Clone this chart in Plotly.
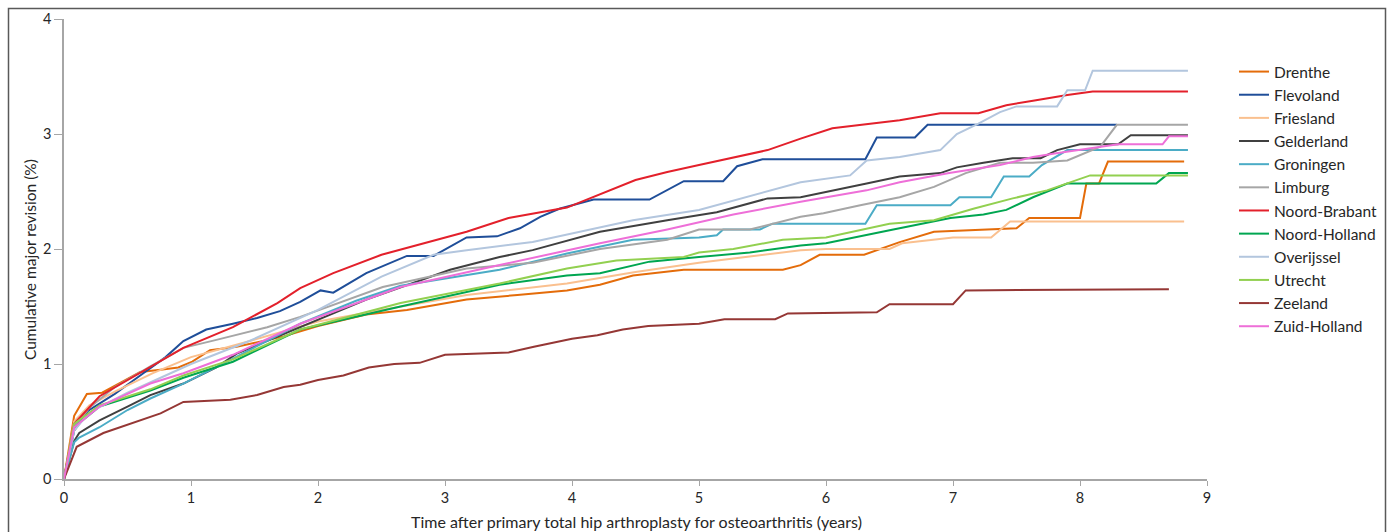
import plotly.graph_objects as go

# Cumulative major revision (%) by province, years after primary total hip arthroplasty
provinces = ["Drenthe", "Flevoland", "Friesland", "Gelderland", "Groningen", "Limburg",
             "Noord-Brabant", "Noord-Holland", "Overijssel", "Utrecht", "Zeeland", "Zuid-Holland"]

colors = ["#E46C0A", "#1F4E99", "#FAC08F", "#404040", "#4BACC6", "#A6A6A6",
          "#E3202B", "#00A651", "#B3C6DE", "#92D050", "#953735", "#EE6FD8"]

drenthe_t = [0, 0.08, 0.18, 0.3, 0.45, 0.6, 0.76, 0.9, 1.01, 1.15, 1.36, 1.73, 2.0, 2.38, 2.7, 3.17,
             3.57, 3.96, 4.22, 4.48, 4.88, 5.66, 5.8, 5.95, 6.3, 6.4, 6.58, 6.85, 7.5, 7.6, 8.0,
             8.05, 8.15, 8.22, 8.82]
drenthe_v = [0, 0.55, 0.74, 0.75, 0.84, 0.93, 0.95, 0.97, 1.02, 1.12, 1.15, 1.24, 1.33, 1.43, 1.47, 1.56,
             1.6, 1.64, 1.69, 1.77, 1.82, 1.82, 1.86, 1.95, 1.95, 1.99, 2.06, 2.15, 2.18, 2.27, 2.27,
             2.57, 2.57, 2.76, 2.76]

flevoland_t = [0, 0.08, 0.2, 0.4, 0.6, 0.8, 0.94, 1.12, 1.33, 1.52, 1.7, 1.86, 2.02, 2.12, 2.38, 2.7,
               2.91, 3.17, 3.41, 3.59, 3.75, 3.9, 4.17, 4.61, 4.88, 5.19, 5.3, 5.5, 6.31, 6.4, 6.7,
               6.8, 8.29]
flevoland_v = [0, 0.42, 0.6, 0.74, 0.9, 1.06, 1.2, 1.3, 1.35, 1.4, 1.46, 1.54, 1.64, 1.62, 1.79, 1.94,
               1.94, 2.1, 2.11, 2.18, 2.28, 2.35, 2.43, 2.43, 2.59, 2.59, 2.72, 2.78, 2.78, 2.97, 2.97,
               3.08, 3.08]

friesland_t = [0, 0.08, 0.2, 0.4, 0.7, 1.0, 1.4, 2.0, 2.5, 3.17, 3.96, 4.5, 5.0, 5.8, 6.0, 6.5, 6.6,
               7.0, 7.3, 7.45, 8.82]
friesland_v = [0, 0.5, 0.64, 0.76, 0.92, 1.06, 1.18, 1.37, 1.47, 1.6, 1.7, 1.8, 1.88, 1.99, 2.0, 2.0, 2.05,
               2.1, 2.1, 2.24, 2.24]

gelderland_t = [0, 0.08, 0.12, 0.28, 0.5, 0.68, 0.94, 1.2, 1.36, 1.6, 1.86, 2.38, 3.04, 3.43, 3.69, 4.22,
                4.75, 5.14, 5.54, 5.8, 6.32, 6.58, 6.9, 7.03, 7.24, 7.47, 7.69, 7.82, 8.0, 8.3, 8.4, 8.85]
gelderland_v = [0, 0.33, 0.4, 0.51, 0.63, 0.73, 0.83, 0.97, 1.09, 1.2, 1.32, 1.56, 1.82, 1.93, 1.99, 2.15,
                2.25, 2.32, 2.44, 2.45, 2.57, 2.63, 2.66, 2.71, 2.75, 2.79, 2.79, 2.86, 2.91, 2.91, 2.99, 2.99]

groningen_t = [0, 0.08, 0.12, 0.28, 0.5, 0.68, 0.94, 1.3, 1.86, 2.3, 2.65, 3.0, 3.43, 3.96, 4.48, 5.0,
               5.14, 5.19, 5.48, 5.58, 6.31, 6.4, 6.98, 7.05, 7.3, 7.4, 7.6, 7.7, 7.9, 8.85]
groningen_v = [0, 0.32, 0.36, 0.45, 0.6, 0.7, 0.83, 1.03, 1.35, 1.55, 1.68, 1.74, 1.82, 1.96, 2.08, 2.1,
               2.12, 2.17, 2.17, 2.22, 2.22, 2.38, 2.38, 2.45, 2.45, 2.63, 2.63, 2.73, 2.86, 2.86]

limburg_t = [0, 0.08, 0.2, 0.4, 0.68, 0.94, 1.2, 1.6, 1.86, 2.51, 3.17, 3.69, 4.22, 4.75, 5.0, 5.4, 5.8,
             5.98, 6.27, 6.58, 6.85, 7.1, 7.37, 7.63, 7.9, 8.16, 8.29, 8.85]
limburg_v = [0, 0.45, 0.62, 0.8, 0.98, 1.14, 1.21, 1.32, 1.41, 1.67, 1.83, 1.88, 2.0, 2.08, 2.17, 2.17, 2.28,
             2.31, 2.38, 2.45, 2.54, 2.66, 2.75, 2.75, 2.77, 2.89, 3.08, 3.08]

brabant_t = [0, 0.08, 0.28, 0.5, 0.68, 0.94, 1.33, 1.68, 1.86, 2.12, 2.5, 3.17, 3.5, 3.96, 4.5, 4.75,
             5.0, 5.54, 5.8, 6.05, 6.58, 6.9, 7.2, 7.42, 7.63, 7.9, 8.1, 8.85]
brabant_v = [0, 0.48, 0.72, 0.86, 0.98, 1.14, 1.32, 1.53, 1.66, 1.79, 1.95, 2.15, 2.27, 2.36, 2.6, 2.67,
             2.73, 2.86, 2.96, 3.05, 3.12, 3.18, 3.18, 3.25, 3.29, 3.34, 3.37, 3.37]

nholland_t = [0, 0.08, 0.28, 0.68, 0.94, 1.33, 1.86, 2.65, 3.43, 3.96, 4.22, 4.61, 5.0, 5.4, 5.8, 6.0,
              6.53, 6.98, 7.24, 7.42, 7.63, 7.9, 8.6, 8.7, 8.85]
nholland_v = [0, 0.45, 0.63, 0.77, 0.88, 1.02, 1.3, 1.5, 1.69, 1.77, 1.79, 1.89, 1.93, 1.97, 2.03, 2.05,
              2.17, 2.27, 2.3, 2.34, 2.45, 2.57, 2.57, 2.66, 2.66]

overijssel_t = [0, 0.08, 0.2, 0.5, 1.0, 1.46, 2.0, 2.5, 2.91, 3.17, 3.69, 4.22, 4.48, 5.0, 5.54, 5.8,
                6.19, 6.32, 6.58, 6.9, 7.03, 7.2, 7.37, 7.5, 7.82, 7.9, 8.04, 8.1, 8.85]
overijssel_v = [0, 0.42, 0.58, 0.75, 1.0, 1.2, 1.47, 1.76, 1.95, 1.99, 2.06, 2.19, 2.25, 2.34, 2.5, 2.58,
                2.64, 2.77, 2.8, 2.86, 3.0, 3.09, 3.19, 3.24, 3.24, 3.38, 3.38, 3.55, 3.55]

utrecht_t = [0, 0.08, 0.28, 0.68, 0.94, 1.33, 1.86, 2.65, 3.43, 3.96, 4.35, 4.88, 5.0, 5.27, 5.66, 6.0,
             6.5, 6.85, 7.16, 7.47, 7.74, 7.9, 8.08, 8.85]
utrecht_v = [0, 0.48, 0.64, 0.78, 0.9, 1.04, 1.3, 1.53, 1.7, 1.83, 1.9, 1.93, 1.97, 2.0, 2.08, 2.1,
             2.22, 2.25, 2.35, 2.44, 2.51, 2.57, 2.64, 2.64]

zeeland_t = [0, 0.1, 0.31, 0.54, 0.76, 0.94, 1.31, 1.52, 1.73, 1.86, 2.0, 2.2, 2.4, 2.6, 2.8, 3.0, 3.5,
             3.7, 4.0, 4.2, 4.4, 4.6, 5.0, 5.2, 5.6, 5.7, 6.4, 6.5, 7.0, 7.1, 8.7]
zeeland_v = [0, 0.28, 0.4, 0.49, 0.57, 0.67, 0.69, 0.73, 0.8, 0.82, 0.86, 0.9, 0.97, 1.0, 1.01, 1.08, 1.1,
             1.15, 1.22, 1.25, 1.3, 1.33, 1.35, 1.39, 1.39, 1.44, 1.45, 1.52, 1.52, 1.64, 1.65]

zholland_t = [0, 0.08, 0.28, 0.68, 0.94, 1.33, 1.86, 2.65, 3.43, 4.22, 4.75, 5.27, 5.8, 6.32, 6.58, 6.97,
              7.37, 7.63, 7.8, 8.0, 8.3, 8.65, 8.7, 8.85]
zholland_v = [0, 0.45, 0.63, 0.83, 0.92, 1.08, 1.35, 1.67, 1.86, 2.05, 2.17, 2.3, 2.41, 2.51, 2.58, 2.66,
              2.73, 2.8, 2.83, 2.86, 2.91, 2.91, 2.98, 2.98]

series = [
    (drenthe_t, drenthe_v), (flevoland_t, flevoland_v), (friesland_t, friesland_v),
    (gelderland_t, gelderland_v), (groningen_t, groningen_v), (limburg_t, limburg_v),
    (brabant_t, brabant_v), (nholland_t, nholland_v), (overijssel_t, overijssel_v),
    (utrecht_t, utrecht_v), (zeeland_t, zeeland_v), (zholland_t, zholland_v),
]

x_ticks = list(range(0, 10))
y_ticks = list(range(0, 5))
x_title = "Time after primary total hip arthroplasty for osteoarthritis (years)"
y_title = "Cumulative major revision (%)"

FONT = "Lato"
TEXT = "#262626"
AXIS = "#A6A6A6"

fig = go.Figure()
for name, color, (t, v) in zip(provinces, colors, series):
    fig.add_trace(go.Scatter(x=t, y=v, mode="lines", name=name, legendgroup=name,
                             line=dict(color=color, width=2)))

W, H = 1394, 532
ml, mr, mt, mb = 64, 187, 19, 53
pw, ph = W - ml - mr, H - mt - mb

def px(xp):
    return (xp - ml) / pw

def py(yp):
    return (H - mb - yp) / ph

fig.update_layout(
    width=W, height=H,
    margin=dict(l=ml, r=mr, t=mt, b=mb, autoexpand=False),
    paper_bgcolor="white", plot_bgcolor="white",
    font=dict(family=FONT, size=14, color=TEXT),
    showlegend=True,
    legend=dict(x=px(1234), y=py(55), xanchor="left", yanchor="top",
                font=dict(family=FONT, size=15.5, color=TEXT),
                tracegroupgap=0, bgcolor="rgba(0,0,0,0)"),
    xaxis=dict(range=[0, 9], tickvals=x_ticks, ticktext=[str(v) for v in x_ticks],
               showgrid=False, zeroline=False, showline=True, linecolor=AXIS, linewidth=1.5,
               ticks="outside", ticklen=5, tickcolor=AXIS, tickwidth=1, automargin=False,
               tickfont=dict(size=14.5, color=TEXT)),
    yaxis=dict(range=[0, 4], tickvals=y_ticks, ticktext=[str(v) for v in y_ticks],
               showgrid=False, zeroline=False, showline=True, linecolor=AXIS, linewidth=1.5,
               ticks="outside", ticklen=8, tickcolor=AXIS, tickwidth=1, automargin=False,
               tickfont=dict(size=14.5, color=TEXT)),
)

# Axis titles
fig.add_annotation(text=x_title, xref="paper", yref="paper", x=px(636), y=py(521),
                   xanchor="center", yanchor="middle", showarrow=False,
                   font=dict(size=16, color=TEXT))
fig.add_annotation(text=y_title, xref="paper", yref="paper", x=px(30), y=py(260),
                   xanchor="center", yanchor="middle", showarrow=False, textangle=-90,
                   font=dict(size=15.5, color=TEXT))

# Outer chart frame
fig.add_shape(type="rect", xref="paper", yref="paper",
              x0=px(8.5), x1=px(1385.5), y0=py(545), y1=py(8.5),
              line=dict(color="#595959", width=1.5), fillcolor="rgba(0,0,0,0)", layer="below")

fig.write_html("out.html")
